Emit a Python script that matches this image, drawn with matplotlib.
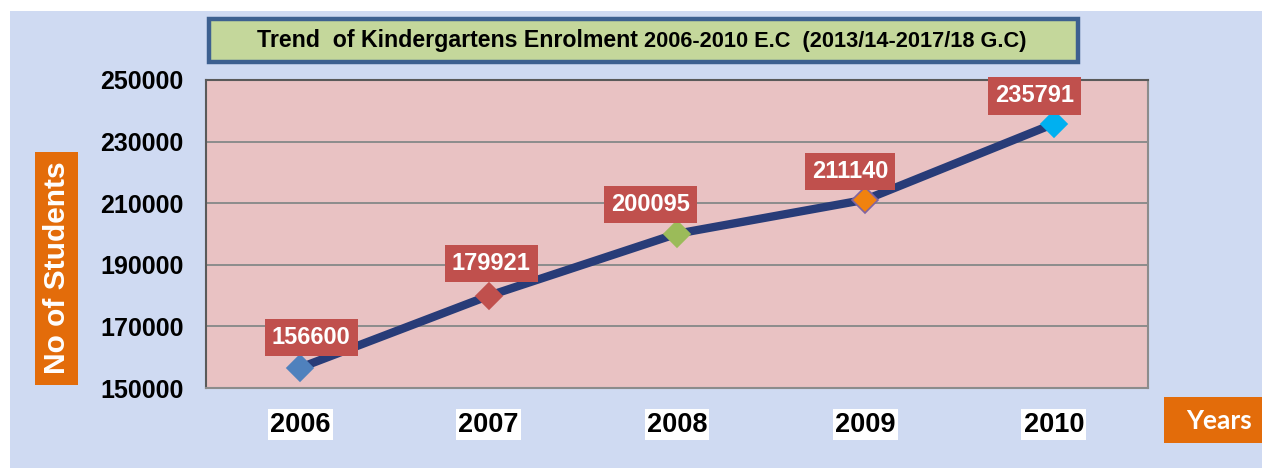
import matplotlib.pyplot as plt
from matplotlib.patches import Rectangle
from matplotlib.text import Annotation

# data
years = ["2006", "2007", "2008", "2009", "2010"]
students = [156600, 179921, 200095, 211140, 235791]
y_ticks = [150000, 170000, 190000, 210000, 230000, 250000]

marker_colors = ["#4f81bd", "#c0504d", "#9bbb59", "#f0820f", "#00b0f0"]
marker_edges = ["#4f81bd", "#c0504d", "#9bbb59", "#8064a2", "#00b0f0"]
# label box offsets (points) relative to each point
label_offsets = [(8, 22), (2, 23), (-19, 21), (-11, 20), (-14, 20)]

W, H = 1262, 470
fig = plt.figure(figsize=(W / 100, H / 100), dpi=100)
fig.patch.set_facecolor("white")


def fig_rect(x0, y0, x1, y1, **kw):
    # rectangle given in pixel coords (origin top-left)
    r = Rectangle((x0 / W, 1 - y1 / H), (x1 - x0) / W, (y1 - y0) / H,
                  transform=fig.transFigure, **kw)
    fig.add_artist(r)
    return r


# textured-looking background
fig_rect(10, 11, 1262, 468, facecolor="#cfdaf2", edgecolor="none", zorder=-1)

ax = fig.add_axes([206 / W, 1 - 388 / H, (1148 - 206) / W, (388 - 80) / H])
ax.set_facecolor("#e9c2c3")
x = list(range(len(years)))

ax.plot(x, students, color="#283c78", linewidth=6, zorder=3, solid_capstyle="round")
for i in x:
    ax.plot(x[i], students[i], marker="D", markersize=13.5, color=marker_colors[i],
            markeredgecolor=marker_edges[i], markeredgewidth=1.2, zorder=4)
    ax.annotate(f"{students[i]}", (x[i], students[i]), xytext=label_offsets[i],
                textcoords="offset points", ha="center", va="center",
                fontsize=17, fontweight="bold", color="white", family="Liberation Sans",
                bbox=dict(boxstyle="square,pad=0.3", facecolor="#c0504d", edgecolor="none"),
                zorder=5)

ax.set_xlim(-0.5, len(years) - 0.5)
ax.set_ylim(150000, 250000)
ax.set_yticks(y_ticks)
ax.set_yticklabels([str(v) for v in y_ticks], fontsize=18, fontweight="bold",
                   family="Liberation Sans")
ax.set_xticks(x)
ax.set_xticklabels(years, fontsize=19.5, fontweight="bold", family="Liberation Sans")
for lbl in ax.get_xticklabels():
    lbl.set_bbox(dict(facecolor="white", edgecolor="none", pad=1.5))
ax.tick_params(axis="y", length=0, pad=16)
ax.tick_params(axis="x", length=0, pad=17)
ax.grid(axis="y", color="#8c8c8c", linewidth=1.4)
ax.set_axisbelow(True)
for side, sp in ax.spines.items():
    sp.set_color("#5a5a5a" if side in ("left", "top") else "#8c8c8c")
    sp.set_linewidth(1.5)

# title box
fig_rect(209, 19, 1078, 62, facecolor="#c4d79b", edgecolor="#3d6090", linewidth=3.2, zorder=1)
t1 = fig.text(257 / W, 1 - 41 / H, "Trend  of Kindergartens Enrolment ", ha="left", va="center",
              fontsize=16.7, fontweight="bold", family="Liberation Sans", zorder=2)
fig.add_artist(Annotation("2006-2010 E.C  (2013/14-2017/18 G.C)", xy=(1, 0.5), xycoords=t1,
                          va="center", ha="left", fontsize=15.7, fontweight="bold",
                          family="Liberation Sans", zorder=2))

# y axis title box
fig_rect(35, 152, 78, 385, facecolor="#e36c0a", edgecolor="none", zorder=1)
fig.text(57 / W, 1 - 268 / H, "No of Students", rotation=90, ha="center", va="center",
         fontsize=21.5, fontweight="bold", color="white", family="Liberation Sans", zorder=2)

# x axis title box
fig_rect(1164, 397, 1262, 443, facecolor="#e36c0a", edgecolor="none", zorder=1)
fig.text(1219 / W, 1 - 421 / H, "Years", ha="center", va="center",
         fontsize=19, fontweight="bold", color="white", family="Lato", zorder=2)

fig.savefig("out.png", dpi=100)
